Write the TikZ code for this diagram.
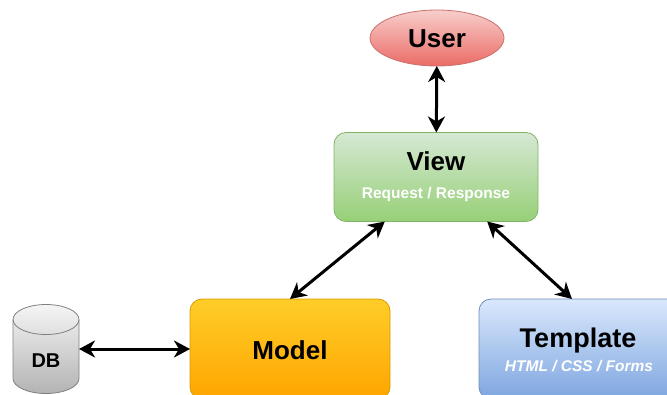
\documentclass[tikz,border=0pt]{standalone}
\usepackage{fontspec}
\setmainfont{Liberation Sans}
\usetikzlibrary{arrows.meta,shapes.geometric}
\definecolor{usertop}{HTML}{F8CECC}
\definecolor{userbot}{HTML}{EA6B66}
\definecolor{userline}{HTML}{C9706C}
\definecolor{viewtop}{HTML}{D5E8D4}
\definecolor{viewbot}{HTML}{97D077}
\definecolor{viewline}{HTML}{82B366}
\definecolor{modeltop}{HTML}{FFCD28}
\definecolor{modelbot}{HTML}{FFA500}
\definecolor{modelline}{HTML}{D79B00}
\definecolor{temptop}{HTML}{DAE8FC}
\definecolor{tempbot}{HTML}{7EA6E0}
\definecolor{templine}{HTML}{6C8EBF}
\definecolor{dbtop}{HTML}{F5F5F5}
\definecolor{dbbot}{HTML}{B3B3B3}
\definecolor{dbline}{HTML}{808080}
\tikzset{
  box/.style={draw,rectangle,rounded corners=12pt,line width=0.8pt,outer sep=0pt,inner sep=0pt},
  title/.style={font=\bfseries\fontsize{26}{26}\selectfont,black},
  sub/.style={font=\bfseries\fontsize{15.5}{16}\selectfont,white},
  link/.style={line width=3pt,{Stealth[length=16pt,width=17pt,inset=5pt]}-{Stealth[length=16pt,width=17pt,inset=5pt]}}
}
\begin{document}
\begin{tikzpicture}[x=1pt,y=-1pt]
  \useasboundingbox (0,0) rectangle (667,394);
  \clip (0,0) rectangle (667,394);
  \node[draw=userline,line width=0.8pt,outer sep=0pt,inner sep=0pt,ellipse,minimum width=134pt,minimum height=56pt,top color=usertop,bottom color=userbot] (user) at (437,38) {};
  \node[box,draw=viewline,top color=viewtop,bottom color=viewbot,minimum width=204pt,minimum height=89pt] (view) at (436,177) {};
  \node[box,draw=modelline,top color=modeltop,bottom color=modelbot,minimum width=200pt,minimum height=100pt] (model) at (290,349) {};
  \node[box,draw=templine,top color=temptop,bottom color=tempbot,minimum width=200pt,minimum height=100pt] (template) at (579,349) {};
  \node[outer sep=0pt,inner sep=0pt,minimum width=66pt,minimum height=89pt] (db) at (46,349) {};
  \draw[dbline,line width=0.8pt,top color=dbtop,bottom color=dbbot] ([yshift=-15pt]db.north west) arc[start angle=180,end angle=0,x radius=33pt,y radius=15pt] -- ([yshift=15pt]db.south east) arc[start angle=0,end angle=-180,x radius=33pt,y radius=15pt] -- cycle;
  \draw[dbline,line width=0.8pt] ([yshift=-15pt]db.north west) arc[start angle=180,end angle=360,x radius=33pt,y radius=15pt];
  \node[title] (usertext) at (437,39) {User};
  \node[title] (viewtext) at (436,161) {View};
  \node[sub] (viewsub) at (436,194) {Request / Response};
  \node[title] (modeltext) at (290,350) {Model};
  \node[title,font=\bfseries\fontsize{27}{27}\selectfont] (templatetext) at (578,341) {Template};
  \node[sub,font=\bfseries\itshape\fontsize{15.5}{16}\selectfont] (templatesub) at (579,366) {HTML / CSS / Forms};
  \node[font=\bfseries\fontsize{20}{20}\selectfont] (dbtext) at (46,361) {DB};
  \draw[link] (user) to (view);
  \draw[link] (view.221) to (model.north);
  \draw[link] (view.319) to (template.98);
  \draw[link] (db.east) to (model.west);
\end{tikzpicture}
\end{document}
